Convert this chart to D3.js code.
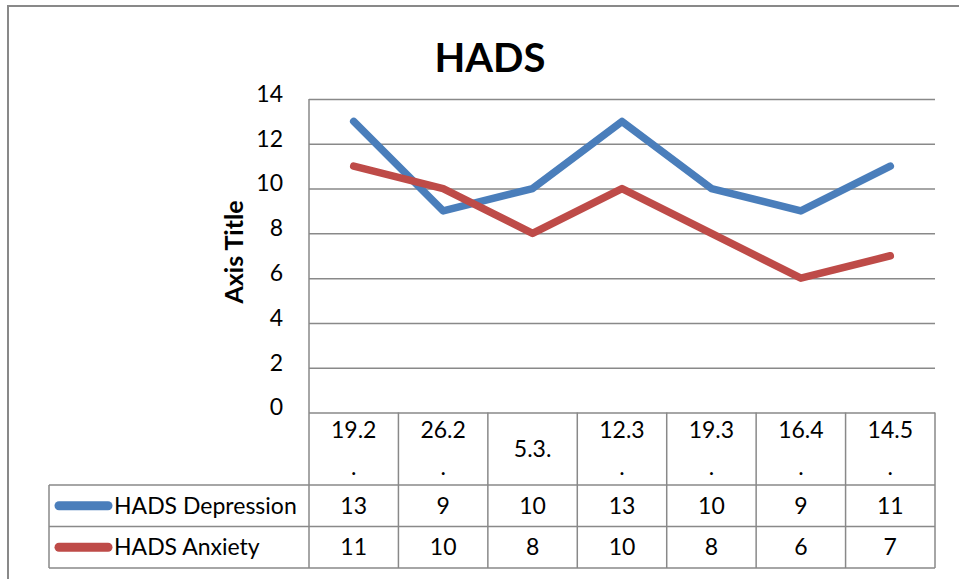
<!DOCTYPE html>
<html>
<head>
<meta charset="utf-8">
<script src="https://cdn.jsdelivr.net/npm/d3@7"></script>
<style>
  body { margin: 0; background: #fff; }
  svg { display: block; font-family: Lato, "Open Sans", sans-serif; }
</style>
</head>
<body>
<div class="chart"></div>
<script>
// datos
const categories = ["19.2.", "26.2.", "5.3.", "12.3.", "19.3.", "16.4.", "14.5."]
const depression = [13, 9, 10, 13, 10, 9, 11]
const anxiety = [11, 10, 8, 10, 8, 6, 7]
const seriesNames = ["HADS Depression", "HADS Anxiety"]
const seriesColors = ["#4A7EBB", "#BE4B48"]
const yTicks = [0, 2, 4, 6, 8, 10, 12, 14]

const WIDTH = 959
const HEIGHT = 579
const plot = { left: 309, right: 935, top: 99, bottom: 412.5 }
const table = { left: 49, headerH: 72.5, rowH: 41.5 }
const gridColor = "#898989"
const FONT = "23px"

const series = seriesNames.map((name, i) => ({
  name: name,
  color: seriesColors[i],
  values: [depression, anxiety][i]
}))

const svg = d3.select(".chart").append("svg")
  .attr("width", WIDTH)
  .attr("height", HEIGHT)

// borde del grafico
svg.append("rect")
  .attr("x", 8).attr("y", 6)
  .attr("width", WIDTH + 10).attr("height", HEIGHT + 10)
  .attr("fill", "none")
  .attr("stroke", gridColor)
  .attr("stroke-width", 2)

// Titulo
svg.append("text")
  .attr("x", 490).attr("y", 72)
  .attr("text-anchor", "middle")
  .attr("font-size", "40px")
  .attr("font-weight", "bold")
  .text("HADS")

svg.append("text")
  .attr("transform", "translate(243, 252) rotate(-90)")
  .attr("text-anchor", "middle")
  .attr("font-size", "25px")
  .attr("font-weight", "bold")
  .text("Axis Title")

// escalas
const xScale = d3.scaleBand().domain(categories).range([plot.left, plot.right])
const yScale = d3.scaleLinear().domain([0, 14]).range([plot.bottom, plot.top])

// grid + eje Y
const yAxis = d3.axisLeft(yScale)
  .tickValues(yTicks)
  .tickSize(-(plot.right - plot.left))
  .tickPadding(26)
const yAxisG = svg.append("g")
  .attr("transform", `translate(${plot.left}, 0)`)
  .call(yAxis)
yAxisG.select(".domain").remove()
yAxisG.selectAll(".tick line").attr("stroke", gridColor).attr("stroke-width", 1.5)
yAxisG.selectAll(".tick text")
  .attr("font-size", FONT)
  .attr("font-family", "Lato, sans-serif")
  .attr("fill", "#000")
  .attr("dy", "0.1em")

// linea vertical del eje
svg.append("line")
  .attr("x1", plot.left).attr("x2", plot.left)
  .attr("y1", plot.top).attr("y2", plot.bottom + table.headerH + 2 * table.rowH)
  .attr("stroke", gridColor).attr("stroke-width", 1.5)

// Tabla de datos
const headerTop = plot.bottom
const rowsTop = headerTop + table.headerH
const tableBottom = rowsTop + 2 * table.rowH
const tableG = svg.append("g")

// lineas verticales de columnas
tableG.selectAll(".col-line")
  .data(categories)
  .join("line")
  .attr("class", "col-line")
  .attr("x1", d => xScale(d) + xScale.bandwidth())
  .attr("x2", d => xScale(d) + xScale.bandwidth())
  .attr("y1", headerTop).attr("y2", tableBottom)
  .attr("stroke", gridColor).attr("stroke-width", 1.5)

// lineas horizontales de filas
const rowLines = [0, 1, 2]
tableG.selectAll(".row-line")
  .data(rowLines)
  .join("line")
  .attr("class", "row-line")
  .attr("x1", table.left).attr("x2", plot.right)
  .attr("y1", d => rowsTop + d * table.rowH)
  .attr("y2", d => rowsTop + d * table.rowH)
  .attr("stroke", gridColor).attr("stroke-width", 1.5)

tableG.append("line")
  .attr("x1", table.left).attr("x2", table.left)
  .attr("y1", rowsTop).attr("y2", tableBottom)
  .attr("stroke", gridColor).attr("stroke-width", 1.5)

// encabezados (fechas), se cortan si no caben
const splitLabel = (s) => s.length > 4 ? [s.slice(0, s.length - 1), s.slice(-1)] : [s]
tableG.selectAll(".cat-label")
  .data(categories)
  .join("text")
  .attr("class", "cat-label")
  .attr("x", d => xScale(d) + xScale.bandwidth() / 2)
  .attr("y", headerTop + table.headerH / 2)
  .attr("text-anchor", "middle")
  .attr("font-size", FONT)
  .each(function(d) {
    const lines = splitLabel(d)
    const t = d3.select(this)
    lines.forEach((l, i) => {
      t.append("tspan")
        .attr("x", xScale(d) + xScale.bandwidth() / 2)
        .attr("dy", i == 0 ? (lines.length == 1 ? "0.35em" : "-0.45em") : "1.6em")
        .text(l)
    })
  })

// filas de series
series.forEach((s, i) => {
  const cy = rowsTop + table.rowH * (i + 0.5)
  tableG.append("line")
    .attr("x1", 59).attr("x2", 108)
    .attr("y1", cy).attr("y2", cy)
    .attr("stroke", s.color)
    .attr("stroke-width", 9)
    .attr("stroke-linecap", "round")
  tableG.append("text")
    .attr("x", 114).attr("y", cy)
    .attr("dy", "0.35em")
    .attr("font-size", FONT)
    .text(s.name)
  tableG.selectAll(`.val-${i}`)
    .data(s.values)
    .join("text")
    .attr("class", `val-${i}`)
    .attr("x", (d, j) => xScale(categories[j]) + xScale.bandwidth() / 2)
    .attr("y", cy)
    .attr("dy", "0.35em")
    .attr("text-anchor", "middle")
    .attr("font-size", FONT)
    .text(d => d)
})

// lineas de datos
const lineGenerator = d3.line()
  .x((d, j) => xScale(categories[j]) + xScale.bandwidth() / 2)
  .y(d => yScale(d))

svg.append("g")
  .selectAll("path")
  .data(series)
  .join("path")
  .attr("d", d => lineGenerator(d.values))
  .attr("fill", "none")
  .attr("stroke", d => d.color)
  .attr("stroke-width", 7.5)
  .attr("stroke-linecap", "round")
  .attr("stroke-linejoin", "round")
</script>
</body>
</html>
